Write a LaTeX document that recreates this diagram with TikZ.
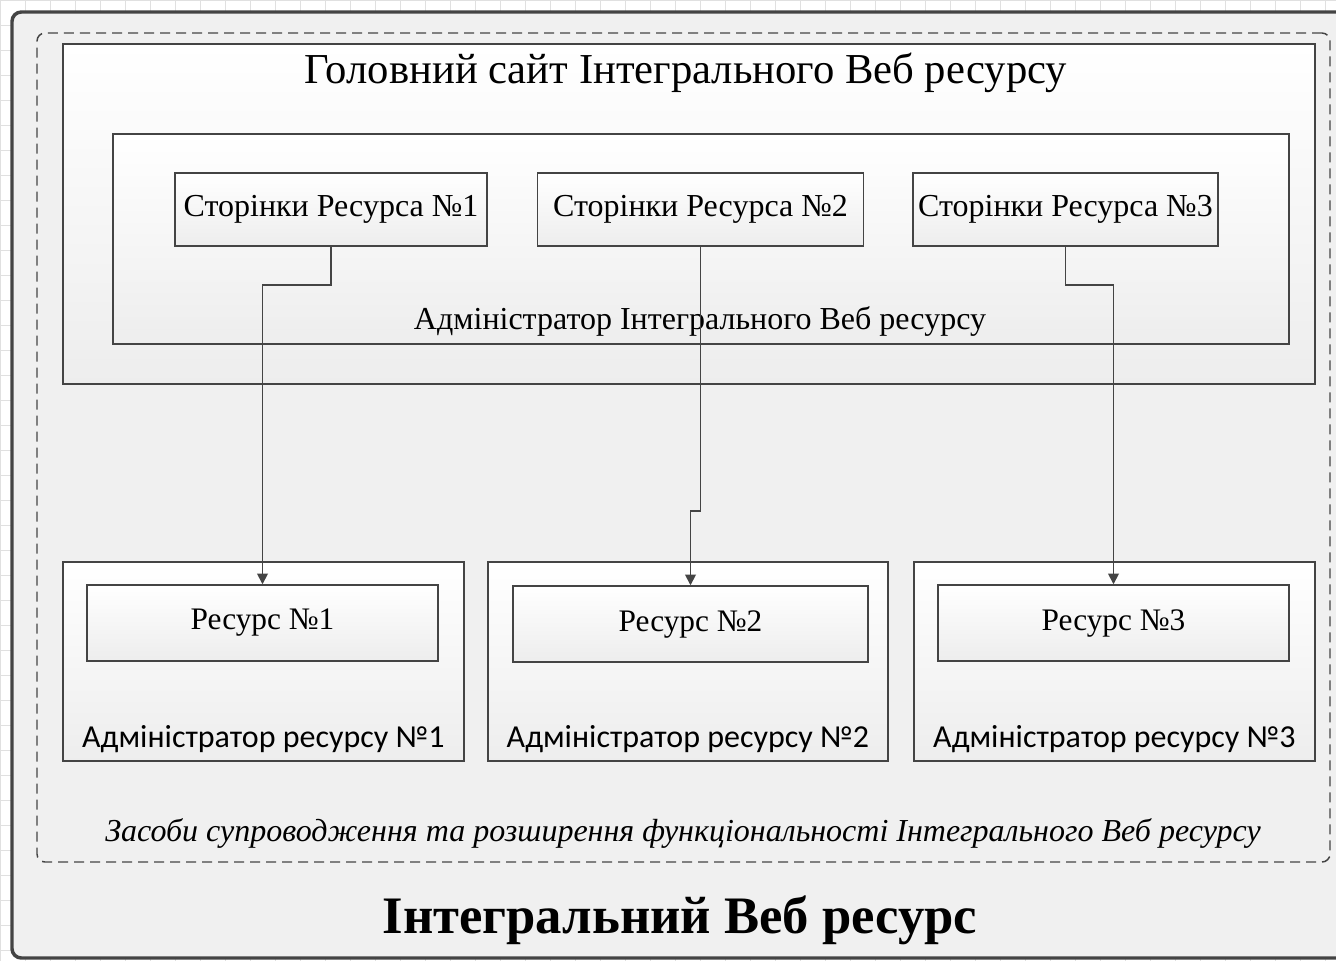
\documentclass[tikz,border=0pt]{standalone}
\usepackage{fontspec}
\setmainfont{Liberation Serif}
\newfontfamily\adminfont{Carlito}
\usetikzlibrary{positioning}
\usetikzlibrary{arrows.meta}
\usetikzlibrary{fit}
\usetikzlibrary{backgrounds}
\usepackage{xcolor}
\definecolor{edgegray}{HTML}{444444}
\definecolor{panelgray}{HTML}{F0F0F0}

\begin{document}
\begin{tikzpicture}[
		x=0.75pt, y=-0.75pt,
		% Style definitions for nested boxes
		outerbox/.style={draw=edgegray, line width=2.6pt, fill=panelgray, rounded corners=7pt, inner sep=0pt},
		toolsbox/.style={draw=edgegray, line width=1.1pt, dash pattern=on 7.5pt off 4.5pt, rounded corners=6pt, inner sep=0pt},
		panel/.style={draw=edgegray, line width=1.1pt, top color=white, bottom color=black!7, inner sep=0pt},
		pagebox/.style={panel, minimum height=54.75pt, font=\fontsize{24}{27}\selectfont},
		resbox/.style={panel, minimum height=57pt, font=\fontsize{23.5}{26}\selectfont},
		title/.style={font=\fontsize{32}{36}\selectfont},
		label/.style={font=\fontsize{24}{27}\selectfont},
		adminlabel/.style={font=\adminfont\fontsize{24}{27}\selectfont},
		link/.style={-{Triangle[length=8pt, width=8pt]}, line width=1.3pt, edgegray},
		]
		\clip (0,0) rectangle (1336,961);
		% === Background grid ===
		\draw[black!12, line width=0.5pt, step=18.75pt] (0,0) grid (1336,961);

		% === Outer frame: Integral web resource ===
		\path (12,12) coordinate (outerNW) (1350,958) coordinate (outerSE);
		\node[outerbox, fit=(outerNW)(outerSE)] (outer) {};
		\node[font=\bfseries\fontsize{39.5}{42}\selectfont] (integral) at (680,920) {Інтегральний Веб ресурс};

		% === Dashed frame: maintenance tools ===
		\path (37,33) coordinate (toolsNW) (1330,862) coordinate (toolsSE);
		\node[toolsbox, fit=(toolsNW)(toolsSE)] (tools) {};
		\node[font=\itshape\fontsize{24}{28}\selectfont] (toolslabel) at (683,833) {Засоби супроводження та розширення функціональності Інтегрального Веб ресурсу};

		% === Main site ===
		\path (63,44) coordinate (siteNW) (1315,384) coordinate (siteSE);
		\node[panel, fit=(siteNW)(siteSE)] (site) {};
		\node[title] (sitelabel) at (686,73) {Головний сайт Інтегрального Веб ресурсу};

		\path (113,134) coordinate (mainadmNW) (1289,344) coordinate (mainadmSE);
		\node[panel, fit=(mainadmNW)(mainadmSE)] (mainadm) {};
		\node[label] (mainadmlabel) at (700,321) {Адміністратор Інтегрального Веб ресурсу};

		% === Resource pages ===
		\node[pagebox, minimum width=234pt] (page1) at (331,209.5) {Сторінки Ресурса №1};
		\node[pagebox, minimum width=244.5pt, right=36.75pt of page1] (page2) {Сторінки Ресурса №2};
		\node[pagebox, minimum width=228.75pt, right=36pt of page2] (page3) {Сторінки Ресурса №3};

		% === Resources with their administrators ===
		\path (63,562) coordinate (cont1NW) (464,761) coordinate (cont1SE);
		\node[panel, fit=(cont1NW)(cont1SE)] (cont1) {};
		\path (488,562) coordinate (cont2NW) (888,761) coordinate (cont2SE);
		\node[panel, fit=(cont2NW)(cont2SE)] (cont2) {};
		\path (914,562) coordinate (cont3NW) (1315,761) coordinate (cont3SE);
		\node[panel, fit=(cont3NW)(cont3SE)] (cont3) {};

		\node[resbox, minimum width=263.25pt] (res1) at (262.5,623) {Ресурс №1};
		\node[resbox, minimum width=266.25pt] (res2) at (690.5,624) {Ресурс №2};
		\node[resbox, minimum width=263.25pt] (res3) at (1113.5,623) {Ресурс №3};

		\node[adminlabel] (adm1) at ([yshift=17pt]cont1.south) {Адміністратор ресурсу №1};
		\node[adminlabel] (adm2) at ([yshift=17pt]cont2.south) {Адміністратор ресурсу №2};
		\node[adminlabel] (adm3) at ([yshift=17pt]cont3.south) {Адміністратор ресурсу №3};

		% === Links: pages to resources ===
		\draw[link] (page1.south) -- ++(0,38) -| (res1.north);
		\draw[link] (page2.south) -- ++(0,264) -| (res2.north);
		\draw[link] (page3.south) -- ++(0,38) -| (res3.north);

	\end{tikzpicture}
\end{document}
